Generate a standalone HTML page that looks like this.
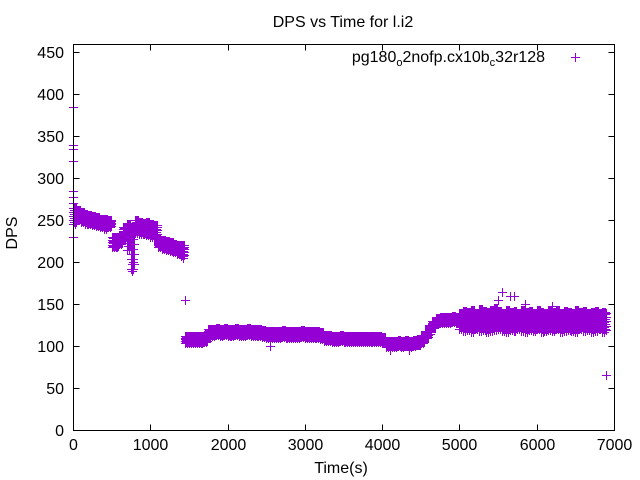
<!DOCTYPE html>
<html><head><meta charset="utf-8"><style>
body{margin:0;background:#fff}
svg{display:block;font-family:"Liberation Sans",sans-serif}
</style></head><body>
<svg id="chart" width="640" height="480">
<rect width="640" height="480" fill="#fff"/>
<text x="343" y="27" text-anchor="middle" font-size="16">DPS vs Time for l.i2</text>
<text x="17" y="233" text-anchor="middle" font-size="16" transform="rotate(-90 17 233)">DPS</text>
<text x="341" y="473" text-anchor="middle" font-size="16">Time(s)</text>
<g id="axes"></g>
<g id="marks" fill="#9400d3"></g>
<g>
<text x="545" y="62" text-anchor="end" font-size="16">pg180<tspan dy="4" font-size="11">o</tspan><tspan dy="-4">2nofp.cx10b</tspan><tspan dy="4" font-size="11">c</tspan><tspan dy="-4">32r128</tspan></text>
<g fill="#9400d3"><rect x="571" y="57" width="9" height="1"/><rect x="575" y="53" width="1" height="9"/></g>
</g>
<rect x="73.5" y="44.5" width="541" height="386" fill="none" stroke="#000" stroke-width="1" shape-rendering="crispEdges"/>
</svg>
<script>
const times=[0,50,100,150,200,250,300,350,400,450,500,550,600,650,700,750,800,850,900,950,1000,1050,1100,1150,1200,1250,1300,1350,1400,1450,1500,1550,1600,1650,1700,1750,1800,1850,1900,1950,2000,2050,2100,2150,2200,2250,2300,2350,2400,2450,2500,2550,2600,2650,2700,2750,2800,2850,2900,2950,3000,3050,3100,3150,3200,3250,3300,3350,3400,3450,3500,3550,3600,3650,3700,3750,3800,3850,3900,3950,4000,4050,4100,4150,4200,4250,4300,4350,4400,4450,4500,4550,4600,4650,4700,4750,4800,4850,4900,4950,5000,5050,5100,5150,5200,5250,5300,5350,5400,5450,5500,5550,5600,5650,5700,5750,5800,5850,5900,5950,6000,6050,6100,6150,6200,6250,6300,6350,6400,6450,6500,6550,6600,6650,6700,6750,6800,6850,6900];
const dpsLow=[245,250,248,246,245,244,243,242,240,242,218,218,222,230,215,192,235,234,233,232,230,228,218,216,215,213,212,210,207,104,104,104,104,104,105,112,112,113,112,113,112,112,113,112,112,113,112,112,112,111,110,110,110,110,111,110,110,110,110,111,110,110,110,110,109,106,106,105,105,106,105,105,105,105,105,105,105,105,105,105,104,99,99,99,100,99,100,99,100,101,104,110,115,122,126,128,128,128,129,128,120,118,119,117,120,118,119,117,118,119,120,118,117,119,118,120,118,117,119,118,120,117,118,119,118,120,117,118,119,118,117,120,118,119,117,118,120,117,119];
const dpsMid=[256,256,254,252,250,249,248,247,246,247,224,224,228,236,228,205,242,242,240,240,238,236,222,220,220,218,218,215,214,108,108,108,108,108,109,116,116,117,116,117,116,116,117,116,116,117,116,116,116,115,114,114,114,114,115,114,114,114,114,115,114,114,114,114,113,110,110,109,109,110,109,109,109,109,109,109,109,109,109,109,108,102,102,102,103,102,103,102,103,104,108,114,120,126,130,132,132,132,133,132,130,131,129,132,130,128,131,130,129,131,132,130,128,131,130,129,131,130,128,132,130,129,131,128,130,131,129,130,132,128,130,131,129,130,128,131,130,129,128];
const dpsHigh=[265,262,260,258,256,255,254,252,252,250,230,230,232,242,245,240,250,248,247,248,246,244,226,226,225,224,222,220,220,112,112,112,112,112,113,120,120,121,120,121,120,120,121,120,120,121,120,120,120,119,118,118,118,118,119,118,118,118,118,119,118,118,118,118,117,113,113,112,112,113,112,112,112,112,112,112,112,112,112,112,111,106,106,106,107,106,107,106,107,108,112,118,125,130,134,135,135,135,136,135,140,142,141,143,140,144,142,141,143,145,142,140,143,141,142,140,143,141,142,140,143,141,140,142,141,143,140,142,141,140,143,141,142,140,141,142,140,141,140];
const outT=[0,0,0,0,0,0,0,0,1450,2550,4100,4350,5500,5550,5650,5700,5850,6200,6900,760,780,1420];
const outV=[385,340,335,320,285,278,270,230,155,100,95,95,155,165,160,160,150,148,65,190,200,205];
const X=t=>73+t*541/7000;
const Y=v=>430-v*386/460;
const xTicks=[0,1000,2000,3000,4000,5000,6000,7000];
const yTicks=[0,50,100,150,200,250,300,350,400,450];
const NS="http://www.w3.org/2000/svg";
const axes=document.getElementById('axes'),marks=document.getElementById('marks');
function mk(tag,attrs,parent){const e=document.createElementNS(NS,tag);for(const k in attrs)e.setAttribute(k,attrs[k]);parent.appendChild(e);return e;}
xTicks.forEach(t=>{const x=Math.round(X(t))+0.5;
const p=mk('path',{d:`M${x} 430.5v-6M${x} 44.5v6`,stroke:'#000','shape-rendering':'crispEdges'},axes);


const l=mk('text',{x:x,y:450,'text-anchor':'middle','font-size':16},axes);l.textContent=t;

});
yTicks.forEach(v=>{const y=Math.round(Y(v))+0.5;
const p=mk('path',{d:`M73.5 ${y}h6M614.5 ${y}h-6`,stroke:'#000','shape-rendering':'crispEdges'},axes);


const l=mk('text',{x:64,y:y+5.5,'text-anchor':'end','font-size':16},axes);l.textContent=v;

});
let d='';
function plus(t,v){const x=Math.round(X(t)),y=Math.round(Y(v));d+=`M${x-4} ${y}h9v1h-9zM${x} ${y-4}h1v9h-1z`;}
times.forEach((t,i)=>{
const lo=dpsLow[i],mi=dpsMid[i],hi=dpsHigh[i];
const span=(i<times.length-1)?times[i+1]-t:1;
[0,0.25,0.5,0.75].forEach((f,k)=>{
if(i===times.length-1&&f>0)return;
const tt=t+f*span;
const off=(k%2)*0.5;
[0,0.25,0.5,0.75,1].forEach(g=>plus(tt,lo+(hi-lo)*Math.min(1,g+off*0.25)));
});});
outT.forEach((t,i)=>plus(t,outV[i]));
const path=mk('path',{d:d,fill:'#9400d3','shape-rendering':'crispEdges'},marks);


</script>
</body></html>
